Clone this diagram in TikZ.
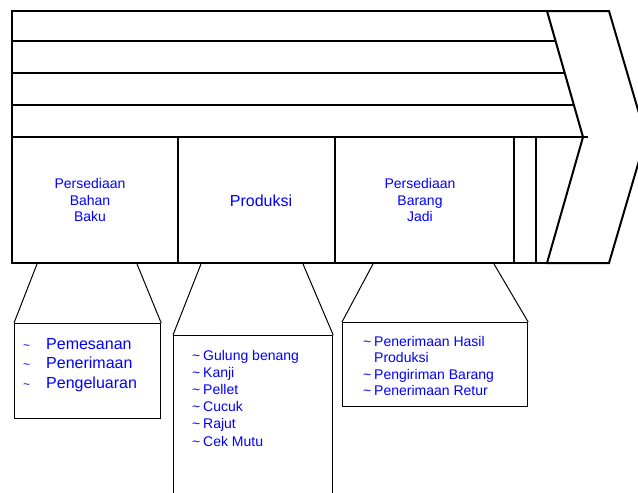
\documentclass[tikz,border=0pt]{standalone}
\usepackage{fontspec}
\setmainfont{Liberation Sans}
\newcommand{\itm}[2][11pt]{\makebox[#1][l]{\textasciitilde}#2}
\begin{document}
\begin{tikzpicture}[x=1pt,y=-1pt,
  frame/.style={line width=2pt},
  rule/.style={line width=1.1pt},
  head/.style={text=blue, align=center, font=\fontsize{14}{16.5}\selectfont},
  callout/.style={draw, line width=1.2pt, anchor=north west, inner sep=0pt},
  item/.style={text=blue, anchor=base west, inner sep=0pt, font=\fontsize{14}{16}\selectfont},
  link/.style={line width=1pt}
]
\useasboundingbox (0,0) rectangle (638,493);

% chevron and frame
\draw[frame, line join=miter] (547,11) -- (609,11) -- (646,137) -- (609,263) -- (547,263) -- (583,137) -- cycle;
\draw[frame] (547,11) -- (12,11) -- (12,263) -- (573,263);
\draw[frame] (12,137) -- (588,137);
\foreach \y/\xe in {41/556, 73/565, 105/574}
  \draw[rule] (12,\y) -- (\xe,\y);
\foreach \x in {178,335,514,536}
  \draw[rule] (\x,137) -- (\x,263);

% headers
\node[head] (bahan) at (90,200) {Persediaan\\Bahan\\Baku};
\node[head, font=\fontsize{16}{18}\selectfont] (produksi) at (261,201) {Produksi};
\node[head] (jadi) at (420,200) {Persediaan\\Barang\\Jadi};

% callout boxes
\node[callout, minimum width=146pt, minimum height=95pt] (boxA) at (14,323) {};
\node[callout, minimum width=159pt, minimum height=175pt] (boxB) at (173,335) {};
\node[callout, minimum width=185pt, minimum height=84pt] (boxC) at (342,322) {};

\coordinate (a1) at (37,264);  \coordinate (a2) at (137,264);
\coordinate (b1) at (201,264); \coordinate (b2) at (303,264);
\coordinate (c1) at (373,264); \coordinate (c2) at (494,264);
\draw[link] (a1) -- (boxA.north west);
\draw[link] (a2) -- (boxA.north east);
\draw[link] (b1) -- (boxB.north west);
\draw[link] (b2) -- (boxB.north east);
\draw[link] (c1) -- (boxC.north west);
\draw[link] (c2) -- (boxC.north east);

% lists
\foreach \t [count=\i] in {Pemesanan, Penerimaan, Pengeluaran}
  \node[item, font=\fontsize{16}{18}\selectfont] (itemA\i) at (23,349+19.5*\i-19.5)
    {\makebox[23pt][l]{\fontsize{12}{14}\selectfont\textasciitilde}\t};
\foreach \t [count=\i] in {Gulung benang, Kanji, Pellet, Cucuk, Rajut, Cek Mutu}
  \node[item] (itemB\i) at (192,360+17.2*\i-17.2) {\itm{\t}};
\node[item] (itemC1) at (363,346) {\itm{Penerimaan Hasil}};
\node[item] (itemC2) at (374,362) {Produksi};
\node[item] (itemC3) at (363,379) {\itm{Pengiriman Barang}};
\node[item] (itemC4) at (363,395) {\itm{Penerimaan Retur}};
\end{tikzpicture}
\end{document}
